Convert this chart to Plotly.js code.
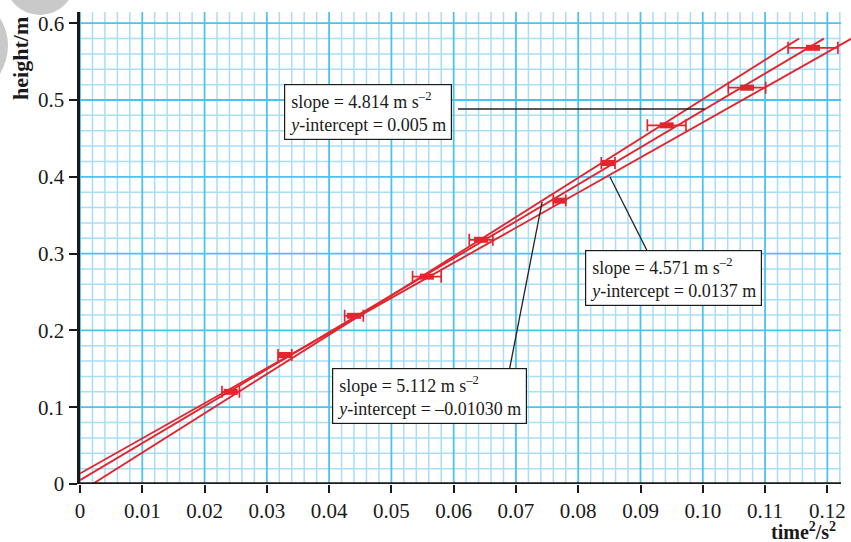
<!DOCTYPE html>
<html>
<head>
<meta charset="utf-8">
<script src="https://cdn.plot.ly/plotly-3.0.1.min.js"></script>
<style>html,body{margin:0;padding:0;background:#fff;}#chart{width:851px;height:542px;}</style>
</head>
<body>
<div id="chart"></div>
<script>
// ---- data ----
const time2 = [0.0242, 0.0329, 0.0440, 0.0557, 0.0644, 0.0770, 0.0848, 0.0942, 0.1071, 0.1177];
const height = [0.120, 0.168, 0.219, 0.270, 0.318, 0.369, 0.418, 0.467, 0.516, 0.568];
const time2Err = [0.0014, 0.0011, 0.0015, 0.0023, 0.0019, 0.0010, 0.0011, 0.0031, 0.0030, 0.0040];

const slopes = [4.814, 4.571, 5.112];
const intercepts = [0.005, 0.0137, -0.0103];
const lineEndHeight = 0.58;

const boxTexts = [
  'slope = 4.814 m s<sup>–2</sup><br><i>y</i>-intercept = 0.005 m',
  'slope = 4.571 m s<sup>–2</sup><br><i>y</i>-intercept = 0.0137 m',
  'slope = 5.112 m s<sup>–2</sup><br><i>y</i>-intercept = –0.01030 m'
];

const xTickVals = [0, 0.01, 0.02, 0.03, 0.04, 0.05, 0.06, 0.07, 0.08, 0.09, 0.10, 0.11, 0.12];
const xTickText = ['0', '0.01', '0.02', '0.03', '0.04', '0.05', '0.06', '0.07', '0.08', '0.09', '0.10', '0.11', '0.12'];
const yTickVals = [0, 0.1, 0.2, 0.3, 0.4, 0.5, 0.6];
const yTickText = ['0', '0.1', '0.2', '0.3', '0.4', '0.5', '0.6'];

// ---- styling / layout ----
const RED = '#e3262e';
const SERIF = '"Liberation Serif", "Times New Roman", serif';
const MAJOR = '#4cc2ef';
const MINOR = '#a9def6';
const GRID_X_END = 0.1222;   // right edge of the graph paper
const GRID_Y_END = 0.6146;   // top edge of the graph paper

const traces = [];
for (let i = 0; i < slopes.length; i++) {
  const m = slopes[i], b = intercepts[i];
  const x0 = Math.max(0, -b / m);
  const x1 = (lineEndHeight - b) / m;
  traces.push({
    type: 'scatter', mode: 'lines',
    x: [x0, x1], y: [m * x0 + b, m * x1 + b],
    line: {color: RED, width: 1.9},
    hoverinfo: 'skip', showlegend: false
  });
}
traces.push({
  type: 'scatter', mode: 'markers',
  x: time2, y: height,
  marker: {symbol: 'line-ew', size: 10, color: RED, line: {color: RED, width: 6}},
  error_x: {type: 'data', array: time2Err, visible: true, color: RED, thickness: 1.7, width: 6},
  showlegend: false
});

// graph-paper grid
const shapes = [];
const minorGrid = [], majorGrid = [];
for (let k = 0; k <= 61; k++) {
  const xv = k * 0.002;
  (k % 5 === 0 ? majorGrid : minorGrid).push({type: 'line', xref: 'x', yref: 'y',
    x0: xv, x1: xv, y0: 0, y1: GRID_Y_END});
}
for (let k = 1; k <= 30; k++) {
  const yv = k * 0.02;
  (k % 5 === 0 ? majorGrid : minorGrid).push({type: 'line', xref: 'x', yref: 'y',
    x0: 0, x1: GRID_X_END, y0: yv, y1: yv});
}
minorGrid.forEach(s => { s.line = {color: MINOR, width: 1.5}; s.layer = 'below'; shapes.push(s); });
majorGrid.forEach(s => { s.line = {color: MAJOR, width: 1.8}; s.layer = 'below'; shapes.push(s); });

// bottom axis line
shapes.push({type: 'line', xref: 'x', yref: 'y', x0: 0, x1: GRID_X_END, y0: 0, y1: 0,
  line: {color: '#1a1a1a', width: 3.5}, layer: 'above'});
// watermark pieces
shapes.push({type: 'circle', xref: 'paper', yref: 'paper', x0: -0.0973, x1: -0.0065, y0: 0.9936, y1: 1.142,
  fillcolor: '#c9c9c9', line: {width: 0}, layer: 'below'});
shapes.push({type: 'path', xref: 'paper', yref: 'paper',
  path: 'M -0.1038 0.9873 Q -0.083 0.930 -0.1038 0.8686 Z',
  fillcolor: '#c9c9c9', line: {width: 0}, layer: 'below'});

// leader lines (box edge -> fitted line)
const leaders = [
  {x0: 0.0607, y0: 0.4883, x1: 0.1003, y1: 0.4883},
  {x0: 0.0910, y0: 0.3047, x1: 0.0851, y1: 0.3997},
  {x0: 0.0690, y0: 0.1510, x1: 0.0742, y1: 0.3672}
];
const boxAnchors = [
  {x: 0.0327, y: 0.5208},
  {x: 0.0811, y: 0.3047},
  {x: 0.04045, y: 0.1510}
];
leaders.forEach(l => shapes.push({type: 'line', xref: 'x', yref: 'y', x0: l.x0, y0: l.y0, x1: l.x1, y1: l.y1,
  line: {color: '#222', width: 1.3}, layer: 'above'}));

const annotations = boxTexts.map((t, i) => ({
  xref: 'x', yref: 'y', x: boxAnchors[i].x, y: boxAnchors[i].y,
  xanchor: 'left', yanchor: 'top', showarrow: false, align: 'left',
  text: t, font: {family: SERIF, size: 18, color: '#1a1a1a'},
  bgcolor: '#ffffff', bordercolor: '#1a1a1a', borderwidth: 1.2, borderpad: 4
}));
annotations.push({
  xref: 'paper', yref: 'paper', x: -0.078, y: 0.9025, xanchor: 'center', yanchor: 'middle',
  textangle: -90, showarrow: false,
  text: '<b>height/m</b>', font: {family: SERIF, size: 22, color: '#1a1a1a'}
});
annotations.push({
  xref: 'paper', yref: 'paper', x: 0.983, y: -0.129, xanchor: 'right', yanchor: 'bottom', showarrow: false,
  text: '<b>time<sup>2</sup>/s<sup>2</sup></b>', font: {family: SERIF, size: 20, color: '#1a1a1a'}
});

const layout = {
  width: 851, height: 542,
  margin: {l: 80, r: 0, t: 12, b: 58},
  paper_bgcolor: '#ffffff', plot_bgcolor: '#ffffff',
  showlegend: false,
  xaxis: {
    range: [0, 0.1238], tickmode: 'array', tickvals: xTickVals, ticktext: xTickText,
    showgrid: false, zeroline: false, showline: false,
    ticks: 'outside', ticklen: 8, tickwidth: 2, tickcolor: '#1a1a1a',
    tickfont: {family: SERIF, size: 21, color: '#1a1a1a'}
  },
  yaxis: {
    range: [0, GRID_Y_END], tickmode: 'array', tickvals: yTickVals, ticktext: yTickText,
    showgrid: false, zeroline: false,
    showline: true, linecolor: '#1a1a1a', linewidth: 3.5,
    ticks: 'outside', ticklen: 8, tickwidth: 2, tickcolor: '#1a1a1a',
    tickfont: {family: SERIF, size: 21, color: '#1a1a1a'}
  },
  shapes: shapes,
  annotations: annotations
};

Plotly.newPlot('chart', traces, layout, {displayModeBar: false, staticPlot: true});
</script>
</body>
</html>
